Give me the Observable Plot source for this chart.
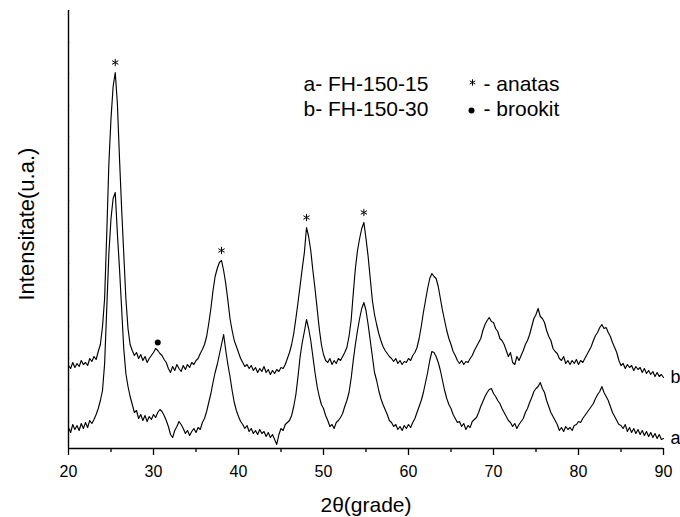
<!DOCTYPE html>
<html>
<head>
<meta charset="utf-8">
<script src="https://cdn.jsdelivr.net/npm/d3@7"></script>
<script src="https://cdn.jsdelivr.net/npm/@observablehq/plot@0.6"></script>
<style>
  html, body { margin: 0; padding: 0; background: white; }
</style>
</head>
<body>
<div id="chart"></div>
<script>
// 2θ sampling grid (degrees): 20 … 90 every 0.25°
const twoTheta = d3.range(0, 281).map(i => 20 + i * 0.25);

// a- FH-150-15 (intensity, arbitrary units)
const seriesA = [
  21, 16, 24, 19,   23, 18, 25, 20,   26, 21, 28, 25,   29, 34, 40, 48,
  58, 85, 140, 195, 230, 250, 256, 215, 180, 140, 100, 75, 62, 52, 44, 36,
  38, 30, 34, 28,   33, 27, 32, 29,   34, 31, 36, 39,   37, 33, 28, 22,
  14, 11, 18, 22,   27, 24, 20, 15,   18, 13, 17, 20,   16, 21, 19, 26,
  30, 37, 46, 55,   66, 76, 84, 94,   104, 114, 98, 84, 72, 58, 46, 38,
  32, 27, 24, 20,   23, 17, 20, 15,   18, 14, 19, 15,   17, 12, 16, 11,
  14, 9, 4, 14,     20, 18, 24, 26,   28, 33, 42, 54,   72, 92, 106, 117,
  129, 120, 108, 92, 76, 62, 52, 44,  40, 33, 28, 22,   24, 20, 26, 28,
  31, 35, 42, 48,   56, 70, 88, 104,  118, 130, 140, 146, 138, 124, 108, 92,
  76, 68, 58, 50,   44, 39, 34, 28,   26, 22, 24, 19,   22, 18, 23, 20,
  24, 21, 26, 30,   36, 42, 48, 56,   66, 76, 88, 97,   96, 92, 86, 78,
  68, 58, 50, 44,   40, 34, 30, 26,   27, 22, 25, 19,   23, 21, 27, 29,
  31, 36, 42, 47,   52, 56, 59, 60,   55, 52, 48, 45,   40, 36, 32, 28,
  26, 22, 25, 20,   24, 27, 30, 36,   40, 46, 51, 57,   60, 62, 66, 60,
  56, 48, 42, 36,   32, 28, 24, 18,   21, 17, 22, 19,   21, 18, 23, 24,
  27, 26, 30, 33,   36, 39, 42, 45,   50, 54, 57, 62,   56, 52, 48, 42,
  36, 32, 28, 24,   23, 20, 24, 17,   21, 16, 20, 15,   19, 14, 18, 13,
  17, 12, 16, 11,   15, 10, 14, 9,
  10
];

// b- FH-150-30 (intensity, arbitrary units)
const seriesB = [
  83, 80, 86, 81,   85, 82, 88, 84,   86, 83, 90, 87,   92, 89, 97, 104,
  122, 150, 215, 285, 330, 362, 376, 345, 290, 240, 195, 150, 120, 104, 98, 93,
  96, 90, 94, 88,   92, 86, 90, 93,   96, 100, 98, 95,  93, 89, 86, 80,
  76, 82, 78, 84,   80, 77, 83, 79,   84, 81, 86, 84,   88, 90, 95, 99,
  104, 112, 125, 140, 158, 172, 180, 186, 188, 178, 165, 148, 130, 118, 108, 102,
  96, 90, 86, 82,   84, 80, 83, 78,   81, 76, 80, 77,   82, 76, 79, 74,
  78, 75, 79, 77,   81, 80, 84, 90,   96, 104, 115, 130, 146, 163, 180, 196,
  221, 212, 198, 178, 160, 140, 120, 104, 94, 88, 86, 90, 84, 88, 85, 90,
  88, 92, 96, 101,  112, 128, 155, 180, 198, 210, 220, 226, 210, 192, 170, 148,
  134, 124, 115, 108, 102, 98, 95, 92, 90, 87, 90, 85,  88, 84, 87, 86,
  90, 88, 93, 96,   101, 110, 122, 136, 148, 160, 170, 175, 172, 170, 162, 150,
  138, 128, 118, 110, 104, 97, 93, 88, 85, 88, 84, 87,  86, 90, 93, 98,
  102, 106, 110, 118, 124, 128, 131, 127, 126, 120, 117, 110, 108, 104, 98, 92,
  96, 86, 84, 92,   88, 93, 98, 104,  108, 114, 122, 130, 134, 140, 132, 130,
  126, 118, 112, 108, 100, 97, 95, 90, 88, 92, 85, 88,  84, 88, 85, 89,
  84, 88, 86, 90,   94, 98, 102, 108, 113, 116, 121, 124, 120, 121, 116, 112,
  106, 101, 96, 88, 83, 85, 80, 84,   81, 83, 78, 82,   79, 81, 76, 80,
  75, 78, 74, 77,   72, 76, 72, 74,
  71
];

const seriesNames = ["a", "b"];
const xTicks = [20, 30, 40, 50, 60, 70, 80, 90];
const xMinorTicks = [25, 35, 45, 55, 65, 75, 85];
const yTicks = [438, 406, 375, 343, 312, 280, 248, 217, 185, 154, 122, 90, 59, 27];
const anatasPeaks = [25.5, 38, 48, 54.75];
const brookitPeaks = [30.5];
const legendSamples = "a- FH-150-15\nb- FH-150-30";
const legendPhases = "- anatas\n- brookit";
const xLabel = "2θ(grade)";
const yLabel = "Intensitate(u.a.)";

if (seriesA.length !== twoTheta.length || seriesB.length !== twoTheta.length) {
  console.error("length mismatch", seriesA.length, seriesB.length, twoTheta.length);
}

const rows = [];
twoTheta.forEach((t, i) => {
  rows.push({series: "a", t, v: seriesA[i]});
  rows.push({series: "b", t, v: seriesB[i]});
});
const valueB = t => seriesB[Math.round((t - 20) / 0.25)];
const endLabels = seriesNames.map(s => ({label: s, t: 90, v: s === "a" ? seriesA[seriesA.length - 1] : seriesB[seriesB.length - 1]}));

const fontFamily = "'Liberation Sans', Arial, Helvetica, sans-serif";

const chart = Plot.plot({
  width: 680,
  height: 517,
  marginTop: 10,
  marginBottom: 69,
  marginLeft: 68,
  marginRight: 17,
  style: {fontFamily, background: "white", color: "black", overflow: "visible"},
  x: {domain: [20, 90], axis: null},
  y: {domain: [0, 438], axis: null},
  marks: [
    Plot.tickY(yTicks, {y: d => d, insetRight: 593, stroke: "#c4c4c4", strokeWidth: 1}),
    Plot.line(rows, {x: "t", y: "v", z: "series", stroke: "black", strokeWidth: 1.15}),
    Plot.ruleX([20], {stroke: "black", strokeWidth: 1.4}),
    Plot.ruleY([0], {stroke: "black", strokeWidth: 1.4}),
    Plot.axisX({ticks: xTicks, tickSize: 7, tickPadding: 10, fontSize: 16, strokeWidth: 1.3, tickFormat: d => String(d), label: null}),
    Plot.axisX({ticks: xMinorTicks, tickSize: 4, strokeWidth: 1.3, tickFormat: () => "", label: null}),
    Plot.text(endLabels, {x: "t", y: "v", text: "label", dx: 7, textAnchor: "start", lineAnchor: "middle", fontSize: 18, fill: "black"}),
    Plot.dot(anatasPeaks, {x: d => d, y: d => valueB(d), dy: -10, symbol: "asterisk", r: 3.4, stroke: "black", strokeWidth: 1}),
    Plot.dot(brookitPeaks, {x: d => d, y: d => valueB(d), dy: -8, r: 3, fill: "black", stroke: "none"}),
    Plot.text([legendSamples], {text: d => d, frameAnchor: "top-left", dx: 235, dy: 62, lineAnchor: "top", lineHeight: 1.21, textAnchor: "start", fontSize: 21, fill: "black"}),
    Plot.text([legendPhases], {text: d => d, frameAnchor: "top-left", dx: 415, dy: 62, lineAnchor: "top", lineHeight: 1.21, textAnchor: "start", fontSize: 21, fill: "black"}),
    Plot.dot([0], {frameAnchor: "top-left", dx: 404, dy: 72, symbol: "asterisk", r: 3, stroke: "black", strokeWidth: 1}),
    Plot.dot([0], {frameAnchor: "top-left", dx: 403, dy: 100, r: 3, fill: "black", stroke: "none"}),
    Plot.text([xLabel], {text: d => d, frameAnchor: "bottom", dy: 57, lineAnchor: "middle", fontSize: 21, fill: "black"}),
    Plot.text([yLabel], {text: d => d, frameAnchor: "left", dx: -42, dy: 71, rotate: -90, lineAnchor: "middle", fontSize: 22, fill: "black"})
  ]
});

document.getElementById("chart").append(chart);
</script>
</body>
</html>
